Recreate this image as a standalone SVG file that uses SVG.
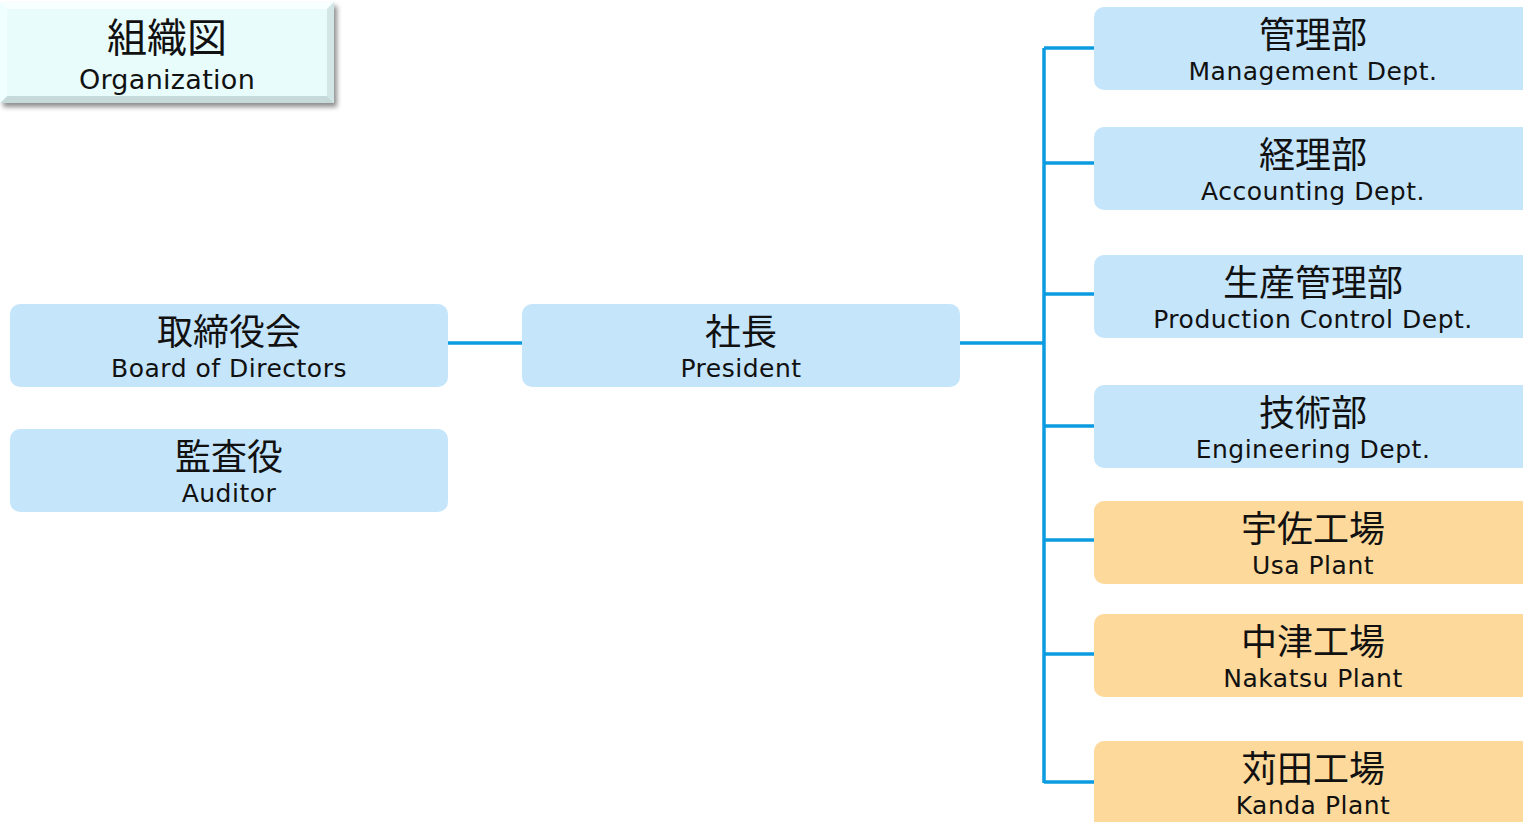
<svg xmlns="http://www.w3.org/2000/svg" width="1523" height="822" viewBox="0 0 1523 822">
<defs>
<filter id="sh" x="-5%" y="-10%" width="115%" height="130%">
<feGaussianBlur in="SourceAlpha" stdDeviation="2.5"/>
<feOffset dx="3" dy="4" result="b"/>
<feComponentTransfer><feFuncA type="linear" slope="0.45"/></feComponentTransfer>
<feMerge><feMergeNode/><feMergeNode in="SourceGraphic"/></feMerge>
</filter>
</defs>
<style>
.b{fill:#c5e5fb}
.o{fill:#fdd99b}
.j{font-family:"Noto Sans CJK JP","DejaVu Sans",sans-serif;font-size:36px;fill:#111;text-anchor:middle}
.e{font-family:"DejaVu Sans","Noto Sans",sans-serif;font-size:25px;letter-spacing:0.5px;fill:#111;text-anchor:middle}
.c{stroke:#0b9be0;stroke-width:3.5;fill:none}
</style>
<rect width="1523" height="822" fill="#ffffff"/>
<g id="title">
<rect x="0" y="2" width="334" height="101" fill="#e8fcfc" filter="url(#sh)"/>
<path d="M0 2 H334 L327 9 H7 Z" fill="#f8ffff"/>
<path d="M334 2 V103 L327 96 V9 Z" fill="#d2e6e6"/>
<path d="M0 103 H334 L327 96 H7 Z" fill="#c6dada"/>
<path d="M0 2 V103 L7 96 V9 Z" fill="#f0ffff"/>
<text class="j" x="167" y="52" style="font-size:40px">組織図</text>
<text class="e" x="167" y="89" style="font-size:27px;letter-spacing:0.3px">Organization</text>
</g>
<g id="connectors">
<line class="c" x1="448" y1="343" x2="522" y2="343"/>
<line class="c" x1="960" y1="343" x2="1044" y2="343"/>
<line class="c" x1="1044" y1="48" x2="1044" y2="783"/>
<line class="c" x1="1044" y1="48" x2="1094" y2="48"/>
<line class="c" x1="1044" y1="163" x2="1094" y2="163"/>
<line class="c" x1="1044" y1="294" x2="1094" y2="294"/>
<line class="c" x1="1044" y1="426" x2="1094" y2="426"/>
<line class="c" x1="1044" y1="540" x2="1094" y2="540"/>
<line class="c" x1="1044" y1="654" x2="1094" y2="654"/>
<line class="c" x1="1044" y1="782" x2="1094" y2="782"/>
</g>
<g id="board">
<rect class="b" x="10" y="304" width="438" height="83" rx="10"/>
<text class="j" x="229" y="345">取締役会</text>
<text class="e" x="229" y="377">Board of Directors</text>
</g>
<g id="auditor">
<rect class="b" x="10" y="429" width="438" height="83" rx="10"/>
<text class="j" x="229" y="470">監査役</text>
<text class="e" x="229" y="502">Auditor</text>
</g>
<g id="president">
<rect class="b" x="522" y="304" width="438" height="83" rx="10"/>
<text class="j" x="741" y="345">社長</text>
<text class="e" x="741" y="377">President</text>
</g>
<g id="management">
<rect class="b" x="1094" y="7" width="445" height="83" rx="10"/>
<text class="j" x="1313" y="48">管理部</text>
<text class="e" x="1313" y="80">Management Dept.</text>
</g>
<g id="accounting">
<rect class="b" x="1094" y="127" width="445" height="83" rx="10"/>
<text class="j" x="1313" y="168">経理部</text>
<text class="e" x="1313" y="200">Accounting Dept.</text>
</g>
<g id="production">
<rect class="b" x="1094" y="255" width="445" height="83" rx="10"/>
<text class="j" x="1313" y="296">生産管理部</text>
<text class="e" x="1313" y="328">Production Control Dept.</text>
</g>
<g id="engineering">
<rect class="b" x="1094" y="385" width="445" height="83" rx="10"/>
<text class="j" x="1313" y="426">技術部</text>
<text class="e" x="1313" y="458">Engineering Dept.</text>
</g>
<g id="usa">
<rect class="o" x="1094" y="501" width="445" height="83" rx="10"/>
<text class="j" x="1313" y="542">宇佐工場</text>
<text class="e" x="1313" y="574">Usa Plant</text>
</g>
<g id="nakatsu">
<rect class="o" x="1094" y="614" width="445" height="83" rx="10"/>
<text class="j" x="1313" y="655">中津工場</text>
<text class="e" x="1313" y="687">Nakatsu Plant</text>
</g>
<g id="kanda">
<rect class="o" x="1094" y="741" width="445" height="95" rx="10"/>
<text class="j" x="1313" y="782">苅田工場</text>
<text class="e" x="1313" y="814">Kanda Plant</text>
</g>
</svg>
